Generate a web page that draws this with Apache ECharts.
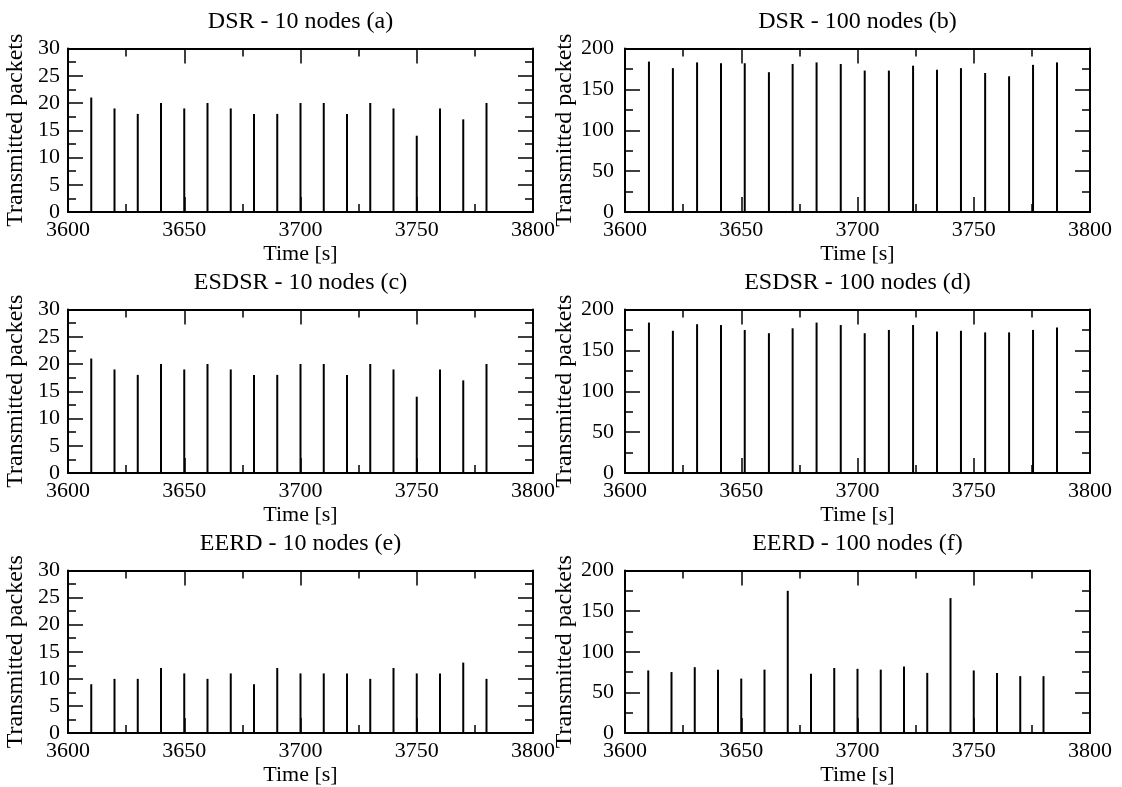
<!DOCTYPE html>
<html>
<head>
<meta charset="utf-8">
<script src="https://cdn.jsdelivr.net/npm/echarts@6/dist/echarts.min.js"></script>
<style>
html,body{margin:0;padding:0;background:#fff;}
#chart{width:1122px;height:787px;}
</style>
</head>
<body>
<div id="chart"></div>
<script>
// ---- data ----
const titles = ["DSR - 10 nodes (a)", "DSR - 100 nodes (b)", "ESDSR - 10 nodes (c)", "ESDSR - 100 nodes (d)", "EERD - 10 nodes (e)", "EERD - 100 nodes (f)"];
const timesSmall = [3610, 3620, 3630, 3640, 3650, 3660, 3670, 3680, 3690, 3700, 3710, 3720, 3730, 3740, 3750, 3760, 3770, 3780];
const timesLarge = [3610.3, 3620.6, 3631.0, 3641.3, 3651.5, 3661.9, 3672.1, 3682.4, 3692.8, 3703.1, 3713.5, 3723.9, 3734.2, 3744.5, 3754.9, 3765.2, 3775.5, 3785.8];
const dsr10 = [21, 19, 18, 20, 19, 20, 19, 18, 18, 20, 20, 18, 20, 19, 14, 19, 17, 20];
const dsr100 = [184, 176, 183, 182, 182, 171, 181, 183, 181, 173, 173, 179, 174, 176, 170, 166, 180, 183];
const esdsr10 = [21, 19, 18, 20, 19, 20, 19, 18, 18, 20, 20, 18, 20, 19, 14, 19, 17, 20];
const esdsr100 = [184, 174, 182, 181, 175, 171, 177, 184, 181, 171, 175, 181, 173, 174, 172, 172, 175, 178];
const eerd10 = [9, 10, 10, 12, 11, 10, 11, 9, 12, 11, 11, 11, 10, 12, 11, 11, 13, 10];
const eerd100 = [77, 75, 81, 78, 67, 78, 175, 73, 80, 79, 78, 82, 74, 166, 77, 74, 70, 70];
const xTicks = {min: 3600, max: 3800, interval: 50};
const ySmall = {min: 0, max: 30, interval: 5};
const yLarge = {min: 0, max: 200, interval: 50};
const xName = "Time [s]";
const yName = "Transmitted packets";

// ---- layout ----
const FONT = "Liberation Serif";
const colLeft = [68, 625];
const rowTop = [48.5, 309.5, 570.5];
const W = 465, H = 163.5;
const panels = [
  {x: timesSmall, y: dsr10, ys: ySmall},
  {x: timesLarge, y: dsr100, ys: yLarge},
  {x: timesSmall, y: esdsr10, ys: ySmall},
  {x: timesLarge, y: esdsr100, ys: yLarge},
  {x: timesSmall, y: eerd10, ys: ySmall},
  {x: timesSmall, y: eerd100, ys: yLarge}
];

const grid = [], xAxis = [], yAxis = [], series = [], title = [];
const lineStyle = {color: '#000', width: 2};
const tickStyle = {color: '#000', width: 1.5};
const plain = v => String(v);
panels.forEach((p, i) => {
  const col = i % 2, row = Math.floor(i / 2);
  const left = colLeft[col], top = rowTop[row];
  grid.push({left: left, top: top, width: W, height: H, containLabel: false});
  title.push({
    text: titles[i], left: left + W / 2, top: top - 39, textAlign: 'center', padding: 0,
    textStyle: {fontFamily: FONT, fontSize: 24, fontWeight: 'normal', color: '#000'}
  });
  const common = {
    gridIndex: i, type: 'value', splitLine: {show: false},
    axisLine: {show: true, onZero: false, lineStyle: lineStyle},
    axisTick: {show: true, inside: true, length: 15, lineStyle: tickStyle},
    minorTick: {show: true, splitNumber: 2, length: 8, lineStyle: tickStyle}
  };
  xAxis.push(Object.assign({}, common, {
    position: 'bottom', min: xTicks.min, max: xTicks.max, interval: xTicks.interval,
    axisLabel: {show: true, margin: 7, fontFamily: FONT, fontSize: 22, color: '#000', formatter: plain},
    name: xName, nameLocation: 'middle', nameGap: 31,
    nameTextStyle: {fontFamily: FONT, fontSize: 22, color: '#000'}
  }));
  xAxis.push(Object.assign({}, common, {
    position: 'top', min: xTicks.min, max: xTicks.max, interval: xTicks.interval,
    axisLabel: {show: false}
  }));
  yAxis.push(Object.assign({}, common, {
    position: 'left', min: p.ys.min, max: p.ys.max, interval: p.ys.interval,
    axisLabel: {show: true, margin: col === 0 ? 8 : 11, fontFamily: FONT, fontSize: 22, color: '#000', formatter: plain},
    name: yName, nameLocation: 'middle', nameGap: col === 0 ? 40 : 48,
    nameTextStyle: {fontFamily: FONT, fontSize: 24, color: '#000'}
  }));
  yAxis.push(Object.assign({}, common, {
    position: 'right', min: p.ys.min, max: p.ys.max, interval: p.ys.interval,
    axisLabel: {show: false}
  }));
  series.push({
    type: 'bar', xAxisIndex: 2 * i, yAxisIndex: 2 * i, barWidth: 2,
    itemStyle: {color: '#000'},
    data: p.x.map((t, k) => [t, p.y[k]]),
    silent: true
  });
});

const chart = echarts.init(document.getElementById('chart'), null, {renderer: 'canvas'});
chart.setOption({
  animation: false,
  backgroundColor: '#fff',
  title: title, grid: grid, xAxis: xAxis, yAxis: yAxis, series: series
});
</script>
</body>
</html>
